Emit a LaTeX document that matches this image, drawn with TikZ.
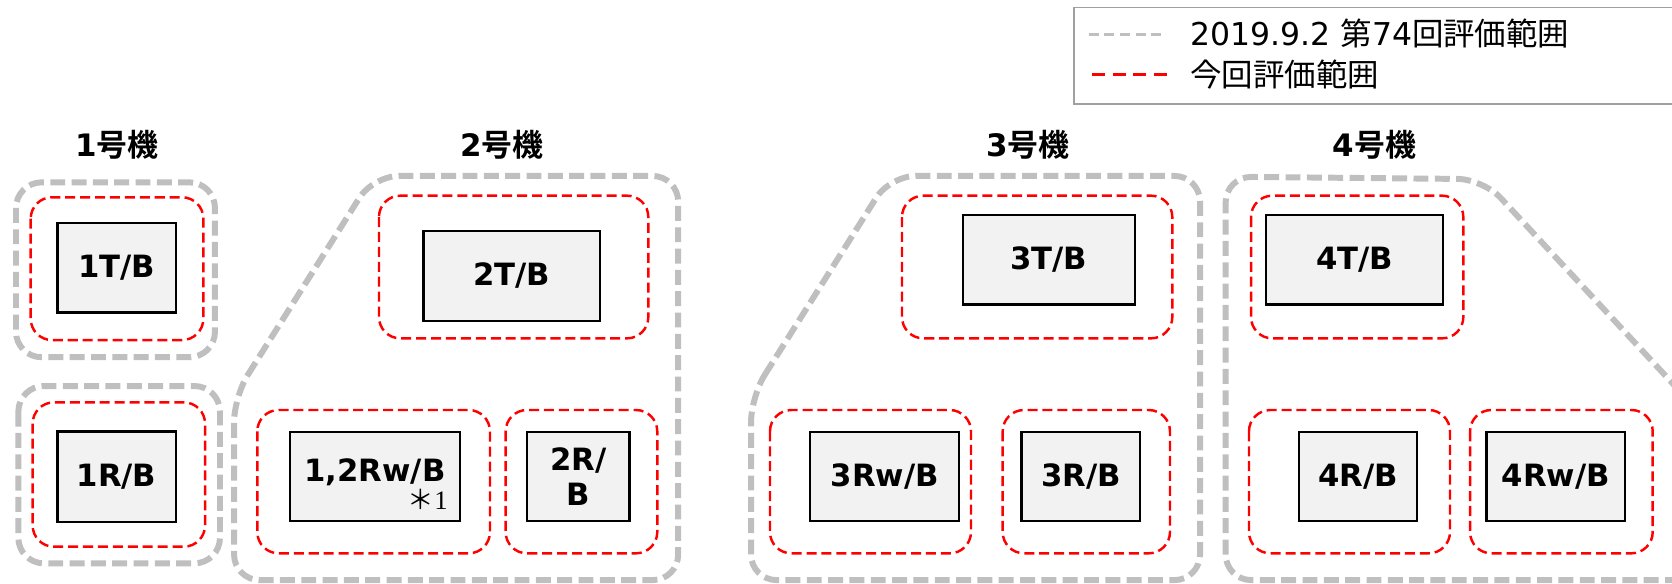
\documentclass[tikz,border=0pt]{standalone}
\usepackage{fontspec}
\newfontfamily\cjk{Noto Sans CJK JP}
\newfontfamily\cjkb{Noto Sans CJK JP Bold}
\newfontfamily\lbl{DejaVu Sans}
\newfontfamily\serifone{Liberation Serif}
\definecolor{zgray}{HTML}{BFBFBF}
\definecolor{zred}{HTML}{FF0000}
\definecolor{zfill}{HTML}{F2F2F2}
\definecolor{legborder}{HTML}{A0A0A0}
\begin{document}
\begin{tikzpicture}[x=0.5pt,y=-0.5pt,
  grayzone/.style={draw=zgray, line width=2.8pt, dash pattern=on 7pt off 3pt, rounded corners=12pt},
  redzone/.style={draw=zred, line width=1.15pt, dash pattern=on 4.7pt off 2.3pt, rounded corners=10pt},
  bldg/.style={draw=black, fill=zfill, line width=1.1pt, inner sep=0pt, align=center,
    font=\lbl\bfseries\fontsize{14.4}{16.5}\selectfont},
  unittitle/.style={inner sep=0pt, font=\fontsize{14.5}{16}\selectfont},
  legtext/.style={inner sep=0pt, anchor=west, font=\cjk\fontsize{14.75}{17}\selectfont},
  leggray/.style={draw=zgray, line width=1.3pt, dash pattern=on 4.7pt off 2.65pt},
  legred/.style={draw=zred, line width=1.4pt, dash pattern=on 6.25pt off 3.4pt}]
\clip (0,0) rectangle (1568,547.6);

% legend
\draw[draw=legborder, line width=0.8pt] (1007,6.9) rectangle (1590,97.5);
\coordinate (lg1) at (1021,32.2);
\coordinate (lg2) at (1093,32.2);
\coordinate (lr1) at (1024,69.4);
\coordinate (lr2) at (1095,69.4);
\draw[leggray] (lg1) -- (lg2);
\draw[legred] (lr1) -- (lr2);
\node[legtext] (leg1) at (1116,31.3) {{\lbl 2019.9.2 }第{\lbl 74}回評価範囲};
\node[legtext] (leg2) at (1116,70.3) {今回評価範囲};

% titles
\node[unittitle] (t1) at (109.5,136) {{\lbl\bfseries 1}{\cjkb 号機}};
\node[unittitle] (t2) at (470.5,136) {{\lbl\bfseries 2}{\cjkb 号機}};
\node[unittitle] (t3) at (964,136) {{\lbl\bfseries 3}{\cjkb 号機}};
\node[unittitle] (t4) at (1289,136) {{\lbl\bfseries 4}{\cjkb 号機}};

% gray zones (previous evaluation)
\draw[grayzone] (15,171) rectangle (201.6,335);
\draw[grayzone] (17.2,362) rectangle (206.3,528.3);
\draw[grayzone] (219.5,372) -- (350,165) -- (636,165) -- (636,544) -- (219.5,544) -- cycle;
\draw[grayzone] (704.3,372) -- (834.6,165) -- (1125.4,165) -- (1125.4,544) -- (704.3,544) -- cycle;
\draw[grayzone] (1149.4,544) -- (1149.4,165.7) -- (1391,168) -- (1620,415) -- (1620,544) -- cycle;

% red zones (this evaluation)
\draw[redzone] (28.8,185) rectangle (190.7,318.9);
\draw[redzone] (30.6,377.3) rectangle (192.3,512.7);
\draw[redzone] (355.4,183.5) rectangle (608,317.3);
\draw[redzone] (241.3,384.5) rectangle (459.5,518.9);
\draw[redzone] (474.2,384.5) rectangle (616.4,518.9);
\draw[redzone] (845.9,183.5) rectangle (1099.4,317.3);
\draw[redzone] (722.1,384.5) rectangle (910.6,518.9);
\draw[redzone] (940.3,384.5) rectangle (1097.2,518.9);
\draw[redzone] (1173.2,183.5) rectangle (1372.3,317.3);
\draw[redzone] (1171.3,384.5) rectangle (1359.8,518.9);
\draw[redzone] (1378.6,384.5) rectangle (1549.9,518.9);

% buildings
\node[bldg, minimum width=55.5pt, minimum height=42pt] (b1T) at (109.3,250.9) {1T/B};
\node[bldg, minimum width=55.5pt, minimum height=42.5pt] (b1R) at (109.3,447.3) {1R/B};
\node[bldg, minimum width=82.9pt, minimum height=42.2pt] (b2T) at (479.9,258.8) {2T/B};
\node[bldg, minimum width=79.7pt, minimum height=41.6pt] (b12Rw) at (351.7,447) {};
\node[font=\lbl\bfseries\fontsize{14.4}{16.5}\selectfont, inner sep=0pt] (b12Rwl) at (351.7,443) {1,2Rw/B};
\node[inner sep=0pt, font=\fontsize{12.5}{14}\selectfont] (note1) at (401,468) {{\cjk ＊}{\serifone 1}};
\node[bldg, minimum width=47.9pt, minimum height=41.6pt] (b2R) at (542.4,447) {2R/\\B};
\node[bldg, minimum width=80.8pt, minimum height=42pt] (b3T) at (983.6,243.7) {3T/B};
\node[bldg, minimum width=70pt, minimum height=41.6pt] (b3Rw) at (829.6,447) {3Rw/B};
\node[bldg, minimum width=55.5pt, minimum height=41.6pt] (b3R) at (1013.6,447) {3R/B};
\node[bldg, minimum width=83.1pt, minimum height=42pt] (b4T) at (1270.4,243.7) {4T/B};
\node[bldg, minimum width=55.2pt, minimum height=41.6pt] (b4R) at (1273.4,447) {4R/B};
\node[bldg, minimum width=64.9pt, minimum height=41.6pt] (b4Rw) at (1459,447) {4Rw/B};
\end{tikzpicture}
\end{document}
